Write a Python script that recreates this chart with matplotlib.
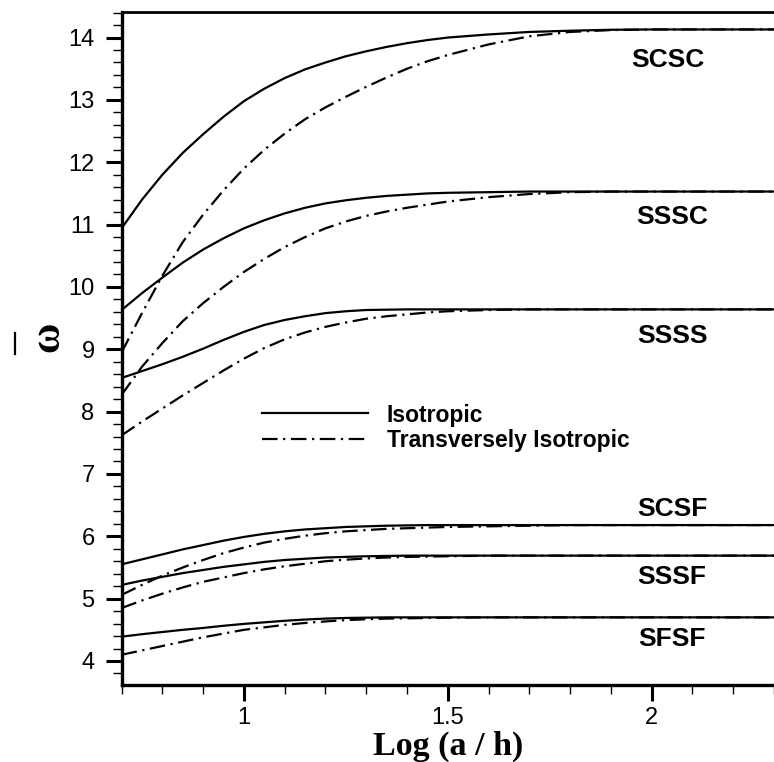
import matplotlib
matplotlib.use("Agg")
import matplotlib.pyplot as plt
from matplotlib.lines import Line2D
from matplotlib.ticker import MultipleLocator, FuncFormatter

# ---- data ----
log_ah = [0.7, 0.75, 0.8, 0.85, 0.9, 0.95, 1.0, 1.05, 1.1, 1.15, 1.2, 1.25, 1.3, 1.35,
          1.4, 1.45, 1.5, 1.6, 1.7, 1.8, 1.9, 2.0, 2.3]

scsc_iso = [10.94, 11.40, 11.80, 12.15, 12.45, 12.73, 12.98, 13.18, 13.35, 13.49, 13.60, 13.70,
            13.78, 13.85, 13.91, 13.96, 14.00, 14.05, 14.09, 14.11, 14.125, 14.13, 14.13]
scsc_tr = [8.95, 9.58, 10.18, 10.72, 11.16, 11.55, 11.90, 12.20, 12.46, 12.69, 12.88, 13.05,
           13.21, 13.36, 13.50, 13.62, 13.72, 13.89, 14.02, 14.09, 14.12, 14.13, 14.13]
sssc_iso = [9.63, 9.90, 10.15, 10.39, 10.60, 10.78, 10.94, 11.07, 11.18, 11.27, 11.34, 11.39,
            11.43, 11.46, 11.48, 11.50, 11.51, 11.52, 11.53, 11.53, 11.53, 11.53, 11.53]
sssc_tr = [8.27, 8.72, 9.10, 9.45, 9.74, 10.00, 10.24, 10.45, 10.64, 10.80, 10.94, 11.05,
           11.14, 11.21, 11.27, 11.32, 11.37, 11.44, 11.49, 11.52, 11.53, 11.53, 11.53]
ssss_iso = [8.54, 8.65, 8.76, 8.88, 9.01, 9.15, 9.28, 9.39, 9.47, 9.53, 9.58, 9.61,
            9.63, 9.635, 9.64, 9.64, 9.64, 9.64, 9.64, 9.64, 9.64, 9.64, 9.64]
ssss_tr = [7.62, 7.84, 8.05, 8.26, 8.46, 8.66, 8.85, 9.02, 9.16, 9.27, 9.36, 9.43,
           9.49, 9.53, 9.56, 9.59, 9.61, 9.63, 9.64, 9.64, 9.64, 9.64, 9.64]
scsf_iso = [5.55, 5.63, 5.71, 5.79, 5.86, 5.93, 5.99, 6.04, 6.08, 6.11, 6.13, 6.15,
            6.16, 6.17, 6.175, 6.18, 6.18, 6.18, 6.18, 6.18, 6.18, 6.18, 6.18]
scsf_tr = [5.06, 5.22, 5.37, 5.50, 5.62, 5.73, 5.82, 5.90, 5.96, 6.01, 6.05, 6.08,
           6.10, 6.12, 6.13, 6.14, 6.15, 6.16, 6.17, 6.18, 6.18, 6.18, 6.18]
sssf_iso = [5.22, 5.29, 5.35, 5.41, 5.46, 5.51, 5.55, 5.59, 5.62, 5.64, 5.66, 5.67,
            5.68, 5.685, 5.69, 5.69, 5.69, 5.69, 5.69, 5.69, 5.69, 5.69, 5.69]
sssf_tr = [4.85, 4.97, 5.08, 5.18, 5.27, 5.34, 5.41, 5.47, 5.52, 5.56, 5.60, 5.625,
           5.645, 5.66, 5.67, 5.675, 5.68, 5.69, 5.69, 5.69, 5.69, 5.69, 5.69]
sfsf_iso = [4.39, 4.43, 4.465, 4.50, 4.53, 4.565, 4.595, 4.62, 4.645, 4.665, 4.68, 4.69,
            4.695, 4.70, 4.70, 4.70, 4.70, 4.70, 4.70, 4.70, 4.70, 4.70, 4.70]
sfsf_tr = [4.10, 4.17, 4.24, 4.31, 4.38, 4.44, 4.50, 4.54, 4.58, 4.61, 4.635, 4.655,
           4.67, 4.68, 4.685, 4.69, 4.695, 4.70, 4.70, 4.70, 4.70, 4.70, 4.70]

case_names = ["SCSC", "SSSC", "SSSS", "SCSF", "SSSF", "SFSF"]
case_label_x = [2.04, 2.05, 2.05, 2.05, 2.05, 2.05]
case_label_y = [13.64, 11.12, 9.22, 6.44, 5.34, 4.36]

legend_labels = ["Isotropic", "Transversely Isotropic"]
x_label = "Log (a / h)"

iso_series = [scsc_iso, sssc_iso, ssss_iso, scsf_iso, sssf_iso, sfsf_iso]
tr_series = [scsc_tr, sssc_tr, ssss_tr, scsf_tr, sssf_tr, sfsf_tr]

# ---- figure ----
W, H = 774, 762
fig = plt.figure(figsize=(W / 100, H / 100), dpi=100)
ax = fig.add_axes([121.6 / W, 1 - 685 / H, 1 - 121.6 / W, (685 - 12) / H])

dashdot = (0, (7, 2.5, 1, 2.5))
handles = []
for i, (yi, yt) in enumerate(zip(iso_series, tr_series)):
    l1, = ax.plot(log_ah, yi, color="black", lw=1.6, solid_joinstyle="round")
    l2, = ax.plot(log_ah, yt, color="black", lw=1.6, linestyle=dashdot)
    if i == 0:
        handles = [l1, l2]

for name, lx, ly in zip(case_names, case_label_x, case_label_y):
    ax.text(lx, ly, name, ha="center", va="center", fontsize=19,
            fontweight="bold", family="Liberation Sans")

ax.set_xlim(0.7, 2.3)
ax.set_ylim(3.615, 14.41)

ax.xaxis.set_major_locator(MultipleLocator(0.5))
ax.xaxis.set_minor_locator(MultipleLocator(0.1))
ax.yaxis.set_major_locator(MultipleLocator(1))
ax.yaxis.set_minor_locator(MultipleLocator(0.2))
ax.xaxis.set_major_formatter(FuncFormatter(lambda v, p: f"{v:g}"))

ax.tick_params(axis="both", which="major", direction="out", length=11.5, width=2.2,
               labelsize=17)
ax.tick_params(axis="y", which="major", pad=8)
ax.tick_params(axis="x", which="major", pad=4)
ax.tick_params(axis="both", which="minor", direction="out", length=6.5, width=1.0)
ax.tick_params(top=False, right=False, which="both")
for lab in ax.get_xticklabels() + ax.get_yticklabels():
    lab.set_family("Liberation Sans")

ax.spines["right"].set_visible(False)
ax.spines["left"].set_linewidth(2.4)
ax.spines["bottom"].set_linewidth(2.4)
ax.spines["top"].set_linewidth(2.0)

leg = ax.legend(handles, legend_labels, loc="upper left",
                bbox_to_anchor=(1.044, 8.13), bbox_transform=ax.transData,
                frameon=False, borderpad=0, borderaxespad=0,
                handlelength=4.63, handletextpad=0.83, labelspacing=0.12,
                prop={"family": "Liberation Sans", "weight": "bold", "size": 16.5})

fig.text(448 / W, 1 - 755 / H, x_label, ha="center", va="baseline",
         fontsize=24.5, fontweight="bold", family="Liberation Serif")

# y label: omega with overbar (rotated)
fig.text(48 / W, 1 - 337 / H, "ω", rotation=90, ha="center", va="center",
         fontsize=30, fontweight="bold", family="Liberation Serif")
fig.add_artist(Line2D([15.5 / W, 15.5 / W], [1 - 333 / H, 1 - 354 / H],
                      transform=fig.transFigure, color="black", lw=1.6))

fig.savefig("out.png", dpi=100)
